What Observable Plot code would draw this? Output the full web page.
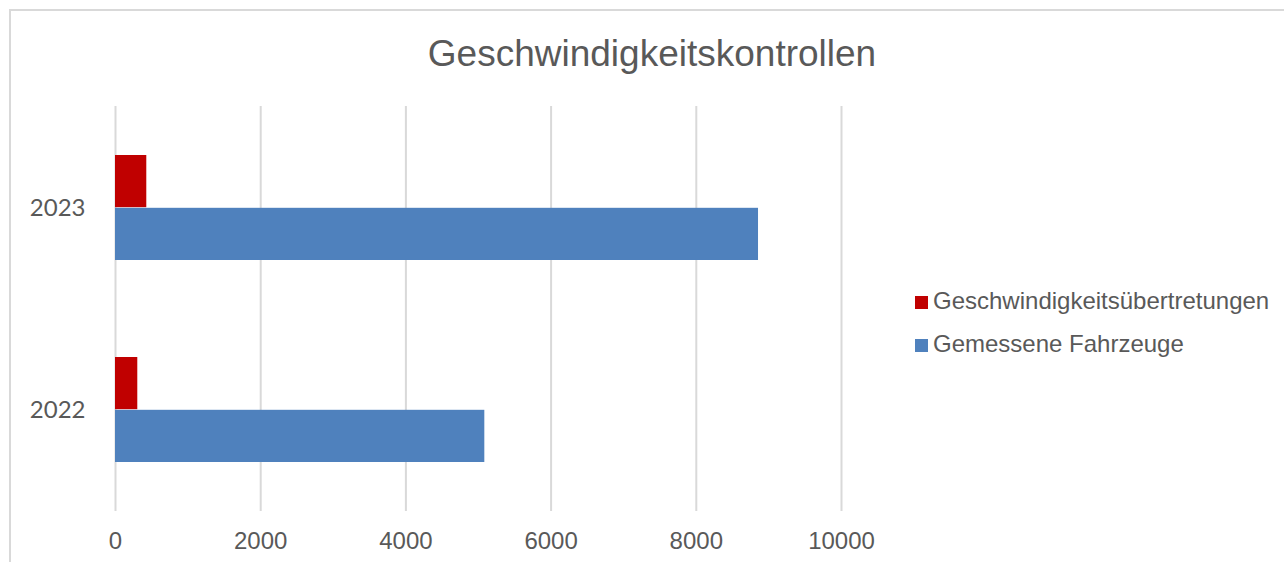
<!DOCTYPE html>
<html>
<head>
<meta charset="utf-8">
<script src="https://cdn.jsdelivr.net/npm/d3@7"></script>
<script src="https://cdn.jsdelivr.net/npm/@observablehq/plot@0.6"></script>
<style>
  html, body { margin: 0; padding: 0; background: #fff; overflow: hidden; width: 1284px; height: 562px; }
  #frame { position: absolute; left: 9px; top: 9px; width: 1400px; height: 700px; border: 2px solid #d9d9d9; box-sizing: border-box; }
  #title { position: absolute; left: 20px; width: 1264px; top: 35px; text-align: center; font: 37px/37px "Liberation Sans", Arial, sans-serif; color: #595959; }
  #chart { position: absolute; left: 0; top: 0; }
  .leg { position: absolute; left: 915px; font: 24px/24px "Liberation Sans", Arial, sans-serif; color: #595959; white-space: nowrap; }
  .sw { display: inline-block; width: 13px; height: 13px; margin-right: 5px; }
</style>
</head>
<body>
<div id="frame"></div>
<div id="title">Geschwindigkeitskontrollen</div>
<div id="chart"></div>
<div id="legend"></div>
<script>
const years = ["2023", "2022"];
const seriesNames = ["Geschwindigkeitsübertretungen", "Gemessene Fahrzeuge"];
const seriesColors = ["#C00000", "#4F81BD"];
const uebertretungen = [431, 307];
const gemessene = [8857, 5087];
const xTicks = [0, 2000, 4000, 6000, 8000, 10000];

const redData = years.map((y, i) => ({year: y, value: uebertretungen[i]}));
const blueData = years.map((y, i) => ({year: y, value: gemessene[i]}));

const plot = Plot.plot({
  width: 900,
  height: 562,
  marginLeft: 115,
  marginRight: 59,
  marginTop: 106,
  marginBottom: 51,
  style: {fontFamily: "'Liberation Sans', Arial, sans-serif", color: "#595959", background: "transparent"},
  x: {domain: [0, 10000]},
  y: {domain: years, paddingInner: 0.48, paddingOuter: 0.24},
  marks: [
    Plot.gridX(xTicks, {stroke: "#d9d9d9", strokeOpacity: 1, strokeWidth: 2}),
    Plot.barX(redData, {x: "value", y: "year", fill: seriesColors[0], insetBottom: 52.8}),
    Plot.barX(blueData, {x: "value", y: "year", fill: seriesColors[1], insetTop: 52.8}),
    Plot.axisX({ticks: xTicks, tickSize: 0, tickPadding: 20, fontSize: 24, fill: "#595959", label: null, tickFormat: d => String(d)}),
    Plot.axisY({tickSize: 0, tickPadding: 30, fontSize: 24, fill: "#595959", label: null, fontFamily: "Lato, 'Open Sans', sans-serif"})
  ]
});
document.getElementById("chart").appendChild(plot);

const legend = document.getElementById("legend");
seriesNames.forEach((name, i) => {
  const row = document.createElement("div");
  row.className = "leg";
  row.style.top = (289 + i * 43) + "px";
  const sw = document.createElement("span");
  sw.className = "sw";
  sw.style.background = seriesColors[i];
  row.appendChild(sw);
  row.appendChild(document.createTextNode(name));
  legend.appendChild(row);
});
</script>
</body>
</html>
